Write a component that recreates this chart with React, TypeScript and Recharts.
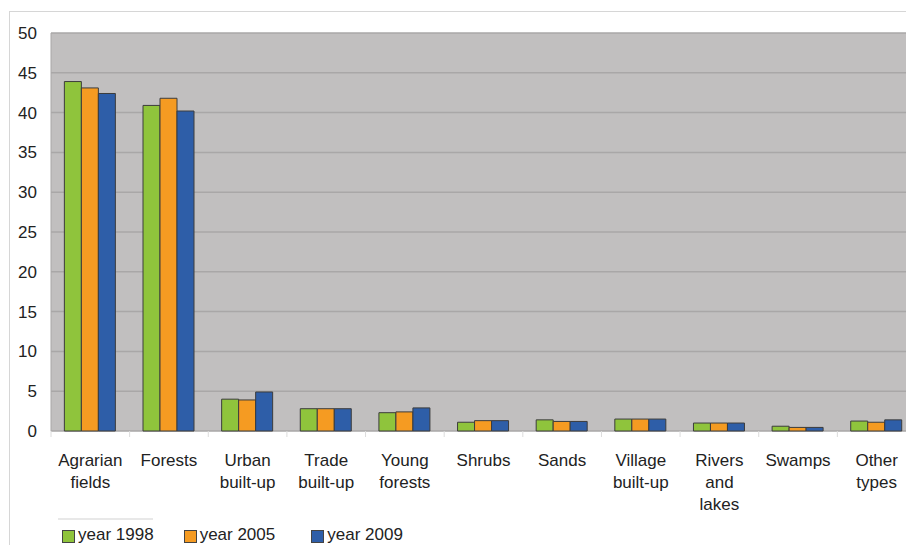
import React from 'react';
import { BarChart, Bar, XAxis, YAxis, CartesianGrid } from 'recharts';

const categories = [
  'Agrarian fields',
  'Forests',
  'Urban built-up',
  'Trade built-up',
  'Young forests',
  'Shrubs',
  'Sands',
  'Village built-up',
  'Rivers and lakes',
  'Swamps',
  'Other types',
];

const year1998 = [43.9, 40.9, 4.0, 2.8, 2.3, 1.1, 1.4, 1.5, 1.0, 0.6, 1.25];
const year2005 = [43.1, 41.8, 3.9, 2.8, 2.4, 1.3, 1.2, 1.5, 1.0, 0.45, 1.1];
const year2009 = [42.4, 40.2, 4.9, 2.8, 2.9, 1.3, 1.2, 1.5, 1.0, 0.45, 1.4];

const yTicks = [0, 5, 10, 15, 20, 25, 30, 35, 40, 45, 50];

const seriesNames = ['year 1998', 'year 2005', 'year 2009'];
const seriesKeys = ['y1998', 'y2005', 'y2009'];
const seriesColors = ['#8fc43c', '#f59b22', '#2e5ea8'];

const data = categories.map((c, i) => ({
  name: c,
  y1998: year1998[i],
  y2005: year2005[i],
  y2009: year2009[i],
}));

const FONT = '"Liberation Sans", Arial, Helvetica, sans-serif';

const splitLabel = (s: string): string[] => {
  const map: Record<string, string[]> = {
    'Agrarian fields': ['Agrarian', 'fields'],
    'Urban built-up': ['Urban', 'built-up'],
    'Trade built-up': ['Trade', 'built-up'],
    'Young forests': ['Young', 'forests'],
    'Village built-up': ['Village', 'built-up'],
    'Rivers and lakes': ['Rivers', 'and', 'lakes'],
    'Other types': ['Other', 'types'],
  };
  return map[s] || [s];
};

const XTick = (props: any) => {
  const { x, y, payload } = props;
  const half = payload && payload.offset ? payload.offset : 39.3;
  const lines = splitLabel(payload.value);
  return (
    <g>
      <line x1={x - half} x2={x - half} y1={y} y2={y + 6} stroke="#dcdcdc" strokeWidth={1} />
      <text textAnchor="middle" fontFamily={FONT} fontSize={17} fill="#222">
        {lines.map((l, i) => (
          <tspan key={i} x={x} y={y + 35 + i * 22}>
            {l}
          </tspan>
        ))}
      </text>
    </g>
  );
};

export default function App() {
  return (
    <div
      style={{
        position: 'absolute',
        left: 0,
        top: 0,
        width: 906,
        height: 545,
        overflow: 'hidden',
        background: '#fff',
      }}
    >
      <div
        style={{
          position: 'absolute',
          left: 9,
          top: 11,
          width: 920,
          height: 560,
          borderTop: '1px solid #d6d6d6',
          borderLeft: '1px solid #d6d6d6',
        }}
      />
      <div style={{ position: 'absolute', left: 0, top: 0 }}>
        <BarChart
          width={916}
          height={545}
          data={data}
          margin={{ top: 33, right: 0, bottom: 14, left: 0 }}
          barCategoryGap="17%"
          barGap={0}
        >
          <CartesianGrid
            vertical={false}
            fill="#c1bfbf"
            stroke="#a9a7a7"
            strokeWidth={1.5}
          />
          <XAxis
            dataKey="name"
            interval={0}
            tickLine={false}
            axisLine={false}
            tickSize={0}
            tickMargin={0}
            height={100}
            tick={<XTick />}
          />
          <YAxis
            domain={[0, 50]}
            ticks={yTicks}
            width={51}
            tickLine={false}
            tickSize={0}
            tickMargin={14}
            axisLine={{ stroke: '#a9a7a7' }}
            tick={{ fontFamily: FONT, fontSize: 17, fill: '#222' }}
          />
          {seriesKeys.map((k, i) => (
            <Bar
              key={k}
              dataKey={k}
              name={seriesNames[i]}
              fill={seriesColors[i]}
              stroke="#3c3c3c"
              strokeWidth={1}
              isAnimationActive={false}
            />
          ))}
        </BarChart>
      </div>
      <div
        style={{
          position: 'absolute',
          left: 58,
          top: 518,
          width: 95,
          height: 2,
          background: '#e8e8e8',
        }}
      />
      <div
        style={{
          position: 'absolute',
          left: 62,
          top: 525,
          display: 'flex',
          alignItems: 'center',
          fontFamily: FONT,
          fontSize: 17,
          color: '#222',
          lineHeight: '20px',
        }}
      >
        {seriesNames.map((n, i) => (
          <div key={n} style={{ display: 'flex', alignItems: 'center', marginRight: i === 0 ? 30 : 36 }}>
            <div
              style={{
                width: 11,
                height: 11,
                background: seriesColors[i],
                border: '1px solid #444',
                marginRight: 3,
                marginTop: 2,
              }}
            />
            <span>{n}</span>
          </div>
        ))}
      </div>
    </div>
  );
}
